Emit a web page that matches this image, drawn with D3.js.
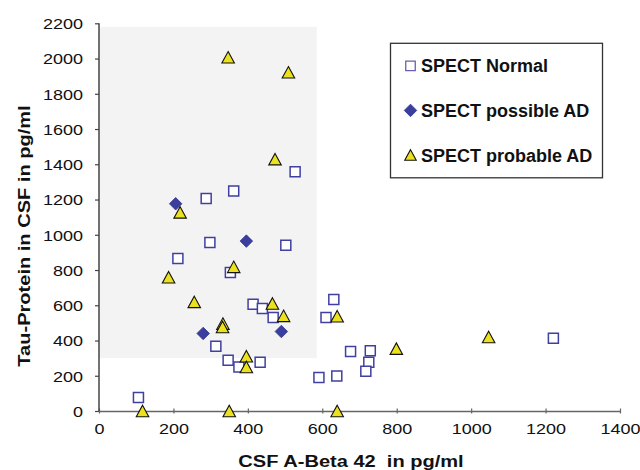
<!DOCTYPE html>
<html>
<head>
<meta charset="utf-8">
<script src="https://cdn.jsdelivr.net/npm/d3@7"></script>
<style>
  body { margin: 0; background: #fff; }
  svg { display: block; }
  text { font-family: "Liberation Sans", Arial, sans-serif; fill: #111; }
</style>
</head>
<body>
<div id="chart"></div>
<script>

// values (pg/ml)
var normalX = [527, 362, 288, 298, 502, 212, 353, 414, 439, 468, 314, 347, 376, 433, 106, 610, 631, 591, 639, 676, 729, 725, 717, 1221];
var normalY = [1357, 1248, 1206, 956, 941, 865, 786, 606, 581, 530, 367, 288, 250, 277, 76, 530, 633, 190, 199, 337, 342, 277, 226, 413];

var possibleX = [206, 396, 280, 490];
var possibleY = [1176, 964, 440, 451];

var probableX = [347, 509, 473, 218, 362, 187, 256, 466, 496, 333, 332, 396, 396, 117, 350, 640, 799, 1047, 640];
var probableY = [2007, 1922, 1429, 1127, 818, 759, 619, 610, 540, 496, 477, 311, 250, 0, 0, 538, 354, 420, 0];

// shaded region (data units)
var shadeX = [0, 585];
var shadeY = [300, 2180];

var xTicks = [0, 200, 400, 600, 800, 1000, 1200, 1400];
var yTicks = [0, 200, 400, 600, 800, 1000, 1200, 1400, 1600, 1800, 2000, 2200];

var seriesNames = ["SPECT Normal", "SPECT possible AD", "SPECT probable AD"];

var width = 640, height = 470;
var plot = { left: 99, right: 620, top: 23.3, bottom: 411 };

var svg = d3.select("#chart").append("svg")
    .attr("width", width)
    .attr("height", height);

var x = d3.scaleLinear().domain([0, 1400]).range([plot.left, plot.right]);
var y = d3.scaleLinear().domain([0, 2200]).range([plot.bottom, plot.top]);

/* marker paths, centred on their bounding box */
var squarePath = function(s) {
    var h = s / 2;
    return "M" + (-h) + "," + (-h) + "H" + h + "V" + h + "H" + (-h) + "Z";
};
var diamondPath = function(s) {
    var h = s / 2;
    return "M0," + (-h) + "L" + h + ",0L0," + h + "L" + (-h) + ",0Z";
};
var trianglePath = function(w, hgt) {
    return "M0," + (-hgt / 2) + "L" + (w / 2) + "," + (hgt / 2) + "L" + (-w / 2) + "," + (hgt / 2) + "Z";
};

var styles = [
    { d: squarePath(10), fill: "#fff", stroke: "#4040a0", sw: 1.5 },
    { d: diamondPath(12.5), fill: "#3a3f9e", stroke: "#2e3290", sw: 0.8 },
    { d: trianglePath(12.5, 11.5), fill: "#ece11e", stroke: "#111", sw: 1.1 }
];

// shaded box
svg.append("rect")
    .attr("x", x(shadeX[0]))
    .attr("y", y(shadeY[1]))
    .attr("width", x(shadeX[1]) - x(shadeX[0]))
    .attr("height", y(shadeY[0]) - y(shadeY[1]))
    .attr("fill", "#f3f3f3");

// x axis
var xAxis = svg.append("g")
    .attr("transform", "translate(0," + plot.bottom + ")")
    .call(d3.axisBottom(x).tickValues(xTicks).tickSize(0).tickFormat(d3.format("d")));
xAxis.select(".domain").attr("stroke", "#666").attr("stroke-width", 1.5);
xAxis.selectAll(".tick line").attr("stroke", "#666").attr("stroke-width", 1.2)
    .attr("y1", -2.5).attr("y2", 2.5);
xAxis.selectAll(".tick text")
    .attr("y", 0).attr("dy", 0)
    .attr("transform", "translate(0,22.5) scale(1.2,1)")
    .style("font-size", "15px")
    .style("font-family", "Liberation Sans, Arial, sans-serif")
    .attr("fill", "#111");

// y axis
var yAxis = svg.append("g")
    .attr("transform", "translate(" + plot.left + ",0)")
    .call(d3.axisLeft(y).tickValues(yTicks).tickSize(4).tickFormat(d3.format("d")));
yAxis.select(".domain").attr("stroke", "#444").attr("stroke-width", 1.5)
    .attr("d", "M0," + plot.top + "V" + plot.bottom);
yAxis.selectAll(".tick line").attr("stroke", "#444").attr("stroke-width", 1.2);
yAxis.selectAll(".tick text")
    .attr("x", 0).attr("dy", "0.36em")
    .attr("transform", "translate(-16,0) scale(1.2,1)")
    .style("font-size", "15px")
    .style("font-family", "Liberation Sans, Arial, sans-serif")
    .attr("fill", "#111");

// axis titles
svg.append("text")
    .attr("text-anchor", "middle")
    .attr("transform", "translate(351,466.5) scale(1.18,1)")
    .style("font-size", "17px")
    .style("font-weight", "bold")
    .style("white-space", "pre")
    .text("CSF A-Beta 42  in pg/ml");

svg.append("text")
    .attr("text-anchor", "middle")
    .attr("transform", "translate(30,236) rotate(-90) scale(1.18,1)")
    .style("font-size", "17px")
    .style("font-weight", "bold")
    .text("Tau-Protein in CSF in pg/ml");

// points, drawn in series order
var series = [
    d3.zip(normalX, normalY),
    d3.zip(possibleX, possibleY),
    d3.zip(probableX, probableY)
];

series.forEach(function(pts, i) {
    svg.append("g").selectAll("path")
        .data(pts)
        .enter().append("path")
        .attr("d", styles[i].d)
        .attr("transform", function(d) { return "translate(" + x(d[0]) + "," + y(d[1]) + ")"; })
        .attr("fill", styles[i].fill)
        .attr("stroke", styles[i].stroke)
        .attr("stroke-width", styles[i].sw);
});

// legend
var legend = svg.append("g").attr("transform", "translate(390.5,43.3)");
legend.append("rect")
    .attr("width", 212)
    .attr("height", 134.5)
    .attr("fill", "#fff")
    .attr("stroke", "#333")
    .attr("stroke-width", 1.3);

var legendRows = [
    { d: squarePath(9.5), fill: "#fff", stroke: "#6a5fb0", sw: 1.3 },
    { d: diamondPath(12.5), fill: "#3a3f9e", stroke: "#2e3290", sw: 0.8 },
    { d: trianglePath(11.5, 10.5), fill: "#ece11e", stroke: "#111", sw: 1.1 }
];

var item = legend.selectAll(".item")
    .data(seriesNames)
    .enter().append("g")
    .attr("class", "item")
    .attr("transform", function(d, i) { return "translate(0," + (22.5 + i * 44.6) + ")"; });

item.append("path")
    .attr("d", function(d, i) { return legendRows[i].d; })
    .attr("transform", "translate(20,0)")
    .attr("fill", function(d, i) { return legendRows[i].fill; })
    .attr("stroke", function(d, i) { return legendRows[i].stroke; })
    .attr("stroke-width", function(d, i) { return legendRows[i].sw; });

item.append("text")
    .attr("x", 30.5)
    .attr("y", 6.5)
    .style("font-size", "18px")
    .style("font-weight", "bold")
    .text(function(d) { return d; });

</script>
</body>
</html>
